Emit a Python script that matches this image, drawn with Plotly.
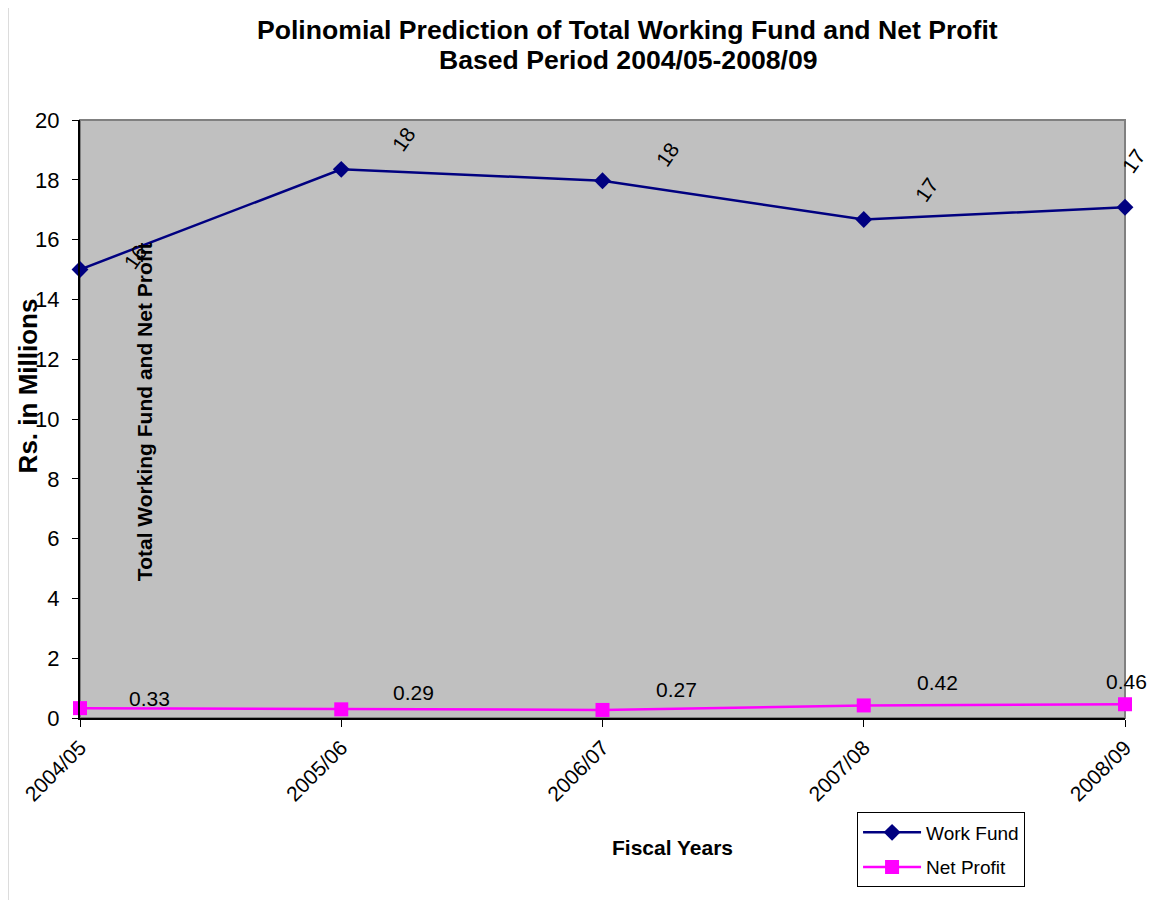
import plotly.graph_objects as go

# -------------------------------------------------
# Chart data
# -------------------------------------------------
years = ["2004/05", "2005/06", "2006/07", "2007/08", "2008/09"]
work_fund = [15.0, 18.35, 17.97, 16.67, 17.08]
net_profit = [0.33, 0.29, 0.27, 0.42, 0.46]
work_fund_labels = ["16", "18", "18", "17", "17"]
net_profit_labels = ["0.33", "0.29", "0.27", "0.42", "0.46"]

FONT = "Liberation Sans, Arial, sans-serif"

# label offsets (pixels) as placed in the original Excel chart
wf_shift = [(55, 12), (62, 30), (65, 26), (63, 30), (8, 46)]
np_shift = [(69, 10), (72, 17), (74, 20), (74, 23), (1, 23)]

fig = go.Figure()

fig.add_trace(go.Scatter(
    x=years, y=work_fund, name="Work Fund", mode="lines+markers",
    line=dict(color="#000080", width=2.5),
    marker=dict(symbol="diamond", size=13, color="#000080"),
    cliponaxis=False, legendgroup="wf",
))

fig.add_trace(go.Scatter(
    x=years, y=net_profit, name="Net Profit", mode="lines+markers",
    line=dict(color="#FF00FF", width=2.5),
    marker=dict(symbol="square", size=14, color="#FF00FF"),
    cliponaxis=False, legendgroup="np",
))

# rotated data labels for work fund
for yr, val, txt, (dx, dy) in zip(years, work_fund, work_fund_labels, wf_shift):
    fig.add_annotation(
        x=yr, y=val, text=txt, showarrow=False, textangle=-55,
        xshift=dx, yshift=dy, font=dict(family=FONT, size=21, color="black"),
    )

# horizontal data labels for net profit
for yr, val, txt, (dx, dy) in zip(years, net_profit, net_profit_labels, np_shift):
    fig.add_annotation(
        x=yr, y=val, text=txt, showarrow=False,
        xshift=dx, yshift=dy, font=dict(family=FONT, size=21, color="black"),
    )


def paper_text(x, y, text, size, angle=0):
    fig.add_annotation(
        x=x, y=y, xref="paper", yref="paper", text=text, showarrow=False,
        xanchor="center", yanchor="middle", textangle=angle,
        font=dict(family=FONT, size=size, color="black"),
    )


# chart title (two lines)
paper_text(0.524, 1.15, "<b>Polinomial Prediction of Total Working Fund and Net Profit</b>", 26.6)
paper_text(0.524, 1.10, "<b>Based Period 2004/05-2008/09</b>", 26.6)

# y axis title and second (inner) vertical title
paper_text(-0.0495, 0.555, "<b>Rs. in Millions</b>", 26, angle=-90)
paper_text(0.0625, 0.512, "<b>Total Working Fund and Net Profit</b>", 21, angle=-90)

# x axis title
paper_text(0.567, -0.2167, "<b>Fiscal Years</b>", 21)

# chart area frame (only top and left edges are visible)
fig.add_shape(
    type="rect", xref="paper", yref="paper",
    x0=-0.0695, x1=1.2, y0=-0.4, y1=1.19,
    line=dict(color="#A0A0A0", width=2), layer="below",
)

# grey frame on top/right of plot area
fig.add_shape(
    type="rect", xref="paper", yref="paper", x0=0, x1=1, y0=0, y1=1,
    line=dict(color="#808080", width=2), layer="below",
)

# page has an 8px body margin, so the figure is 8px smaller than the window
fig.update_layout(
    width=1147, height=892,
    margin=dict(l=68, r=30, t=112, b=180),
    paper_bgcolor="white",
    plot_bgcolor="#C0C0C0",
    font=dict(family=FONT, size=21, color="black"),
    showlegend=True,
    legend=dict(
        x=0.7436, y=-0.158, xanchor="left", yanchor="top",
        bgcolor="white", bordercolor="black", borderwidth=1,
        font=dict(family=FONT, size=19), tracegroupgap=7, itemwidth=58,
        entrywidth=175, entrywidthmode="pixels",
    ),
)

fig.update_xaxes(
    type="category", range=[0, 4], showgrid=False,
    showline=True, linecolor="black", linewidth=2,
    ticks="outside", ticklen=7, tickcolor="black",
    tickangle=-45, tickfont=dict(size=21),
)

fig.update_yaxes(
    range=[0, 20], dtick=2, showgrid=False, zeroline=False,
    showline=True, linecolor="black", linewidth=2,
    ticks="outside", ticklen=6, tickcolor="black",
    tickfont=dict(size=22), ticklabelstandoff=8,
)

fig.write_html("out.html")
